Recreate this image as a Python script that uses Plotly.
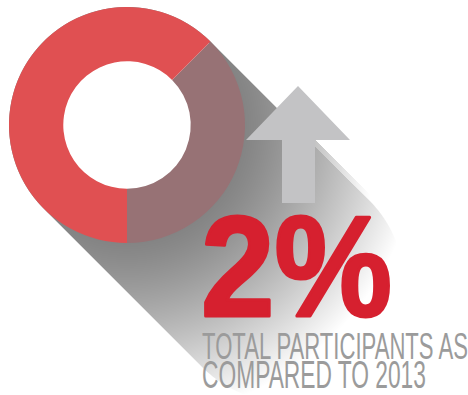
import base64
import json
import struct
import zlib

import numpy as np
import plotly.graph_objects as go

W, H = 468, 395

# Donut data (share of the ring, in percent)
segment_labels = ["Growth", "Base"]
segment_values = [37.5, 62.5]
segment_colors = ["#977275", "#E05052"]

headline = "2%"
caption_lines = ["TOTAL PARTICIPANTS AS", "COMPARED TO 2013"]

# Donut placement in canvas pixels
CX, CY, R_OUT = 127.0, 125.0, 118.0
HOLE = 0.54
SWEEP = 159.0  # length of the long shadow along each axis

# Up arrow outline (canvas pixels)
arrow_x = [298, 350, 315, 315, 282, 282, 246]
arrow_y = [86, 140, 140, 203, 203, 140, 140]
SHAFT_RIGHT, HEAD_BASE, SHAFT_BOTTOM = 315.0, 140.0, 203.0

# Text boxes: left edge, baseline, advance width, cap height (pixels)
headline_box = dict(left=201, base=316, w=191, cap=103, stroke=3)
caption_boxes = [dict(left=202, base=359, w=266, cap=27.5, stroke=0),
                 dict(left=202, base=388, w=224, cap=28.5, stroke=0)]


def png_uri(rgb):
    h, w, _ = rgb.shape
    raw = b"".join(b"\x00" + rgb[i].tobytes() for i in range(h))

    def chunk(tag, data):
        c = struct.pack(">I", len(data)) + tag + data
        return c + struct.pack(">I", zlib.crc32(tag + data) & 0xFFFFFFFF)

    png = (b"\x89PNG\r\n\x1a\n"
           + chunk(b"IHDR", struct.pack(">IIBBBBB", w, h, 8, 2, 0, 0, 0))
           + chunk(b"IDAT", zlib.compress(raw, 9))
           + chunk(b"IEND", b""))
    return "data:image/png;base64," + base64.b64encode(png).decode()


# Long-shadow backdrop
yy, xx = np.mgrid[0:H, 0:W].astype(float) + 0.5
dx, dy = xx - CX, yy - CY
r = np.hypot(dx, dy)
t = np.clip((dx + dy) / 2.0, 0.0, SWEEP)
dist = np.hypot(dx - t, dy - t)
edge = np.clip(R_OUT - dist + 0.5, 0.0, 1.0)
edge[r < R_OUT - 2] = 0.0
tone = 128.0 + 127.0 * np.clip((r - 105.0) / 190.0, 0.0, 1.0) ** 1.3
val = 255.0 - (255.0 - tone) * edge

# shadow cast by the arrow shaft
u = xx - SHAFT_RIGHT
v = yy - xx
shaft = (u >= 0) & (v >= HEAD_BASE - SHAFT_RIGHT) & (v <= SHAFT_BOTTOM - SHAFT_RIGHT)
shaft_tone = 196.0 + 59.0 * np.clip(u / 55.0, 0.0, 1.0)
val = np.where(shaft, np.minimum(val, shaft_tone), val)

g = np.clip(np.round(val), 0, 255).astype(np.uint8)
backdrop = np.stack([g, g, g], axis=-1)

fig = go.Figure()
fig.add_trace(go.Image(source=png_uri(backdrop), x0=0.5, y0=0.5, dx=1, dy=1,
                       hoverinfo="skip"))

fig.add_trace(go.Pie(
    labels=segment_labels, values=segment_values, sort=False,
    direction="clockwise", rotation=45, hole=HOLE,
    marker=dict(colors=segment_colors, line=dict(width=0)),
    textinfo="none", hoverinfo="label+percent", showlegend=False,
    domain=dict(x=[(CX - R_OUT) / W, (CX + R_OUT) / W],
                y=[(H - CY - R_OUT) / H, (H - CY + R_OUT) / H]),
))

arrow_path = "M " + " L ".join(f"{x},{y}" for x, y in zip(arrow_x, arrow_y)) + " Z"
fig.add_shape(type="path", path=arrow_path, xref="x", yref="y",
              fillcolor="#C3C3C5", line=dict(width=0), layer="above")

fig.add_annotation(text=headline, x=headline_box["left"], y=266, xref="x", yref="y",
                   xanchor="left", yanchor="middle", showarrow=False,
                   font=dict(family="Liberation Sans, Arial, sans-serif",
                             size=136, color="#D6202F", weight=700))
for line, box in zip(caption_lines, caption_boxes):
    fig.add_annotation(text=line, x=box["left"], y=box["base"] - 13, xref="x", yref="y",
                       xanchor="left", yanchor="middle", showarrow=False,
                       font=dict(family="Liberation Sans, Arial, sans-serif",
                                 size=36, color="#9B9B9B"))

fig.update_xaxes(range=[0, W], visible=False, fixedrange=True)
fig.update_yaxes(range=[H, 0], visible=False, fixedrange=True)
fig.update_layout(width=W, height=H, margin=dict(l=0, r=0, t=0, b=0),
                  paper_bgcolor="white", plot_bgcolor="white")

# Fit each annotation into its box: condensed width, cap height and baseline.
boxes = [headline_box] + caption_boxes
fit_js = """
var gd = document.getElementById('{plot_id}');
var boxes = BOXES;
var ASC = 0.905 / 1.117, CAP = 0.716 / 1.117;
boxes.forEach(function (s, i) {
  var grp = gd.querySelector('g.annotation[data-index="' + i + '"]');
  if (!grp) { grp = gd.querySelectorAll('g.annotation')[i]; }
  if (!grp) { return; }
  var t = grp.querySelector('text.annotation-text');
  if (!t) { return; }
  if (s.stroke) {
    t.style.stroke = t.style.fill || window.getComputedStyle(t).fill;
    t.style.strokeWidth = s.stroke;
    t.style.strokeLinejoin = 'round';
  }
  var b = t.getBBox();
  var m = t.parentNode.getCTM();
  var sx = s.w / b.width;
  var sy = s.cap / (b.height * CAP);
  var bl = b.y + b.height * ASC;
  var tx = (s.left - m.e) - sx * b.x;
  var ty = (s.base - m.f) - sy * bl;
  t.setAttribute('transform', 'matrix(' + sx + ',0,0,' + sy + ',' + tx + ',' + ty + ')');
});
""".replace("BOXES", json.dumps(boxes))

fig.write_html("out.html", post_script=fit_js)
